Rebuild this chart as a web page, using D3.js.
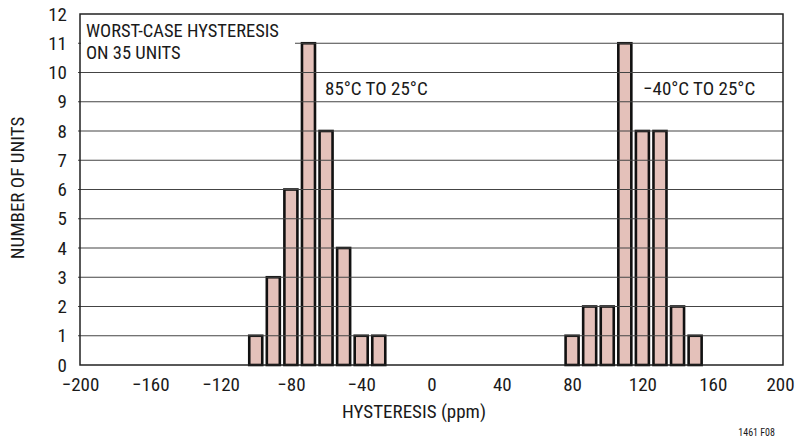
<!DOCTYPE html>
<html><head><meta charset="utf-8">
<script src="https://cdn.jsdelivr.net/npm/d3@7/dist/d3.min.js"></script>
<style>
html,body{margin:0;padding:0;background:#fff;}
text{font-family:"Liberation Sans Narrow","Roboto Condensed","Liberation Sans",sans-serif;fill:#1a1a1a;}
</style></head>
<body>
<svg id="chart" width="796" height="440"></svg>
<script>
// Data
const hotCenters = [-100, -90, -80, -70, -60, -50, -40, -30];
const hotCounts  = [1, 3, 6, 11, 8, 4, 1, 1];
const coldCenters = [80, 90, 100, 110, 120, 130, 140, 150];
const coldCounts  = [1, 2, 2, 11, 8, 8, 2, 1];
const xTicks = [-200, -160, -120, -80, -40, 0, 40, 80, 120, 160, 200];
const yTicks = [0,1,2,3,4,5,6,7,8,9,10,11,12];

const svg = d3.select("#chart");
const L = 80, R = 783, T = 14, B = 365;
const FS = "19px";
const x = d3.scaleLinear().domain([-200, 200]).range([L, R]);
const y = d3.scaleLinear().domain([0, 12]).range([B, T]);
const binHalf = 3.7;

const bars = hotCenters.map((c,i)=>({c, v:hotCounts[i]}))
  .concat(coldCenters.map((c,i)=>({c, v:coldCounts[i]})));

svg.append("g").selectAll("rect").data(bars).join("rect")
  .attr("x", d => x(d.c - binHalf))
  .attr("width", d => x(d.c + binHalf) - x(d.c - binHalf))
  .attr("y", d => y(d.v))
  .attr("height", d => y(0) - y(d.v))
  .attr("fill", "#e4c1ba")
  .attr("stroke", "#111")
  .attr("stroke-width", 2.6);

// gridlines (over bars)
svg.append("g").selectAll("line").data(yTicks.filter(t => t > 0 && t < 12)).join("line")
  .attr("x1", L - 2).attr("x2", R)
  .attr("y1", d => y(d)).attr("y2", d => y(d))
  .attr("stroke", "#444").attr("stroke-width", 1.1);

// text box with white background
svg.append("rect").attr("x", L + 1).attr("y", T + 1).attr("width", 214).attr("height", 46).attr("fill", "#fff");

// frame
svg.append("rect").attr("x", L).attr("y", T).attr("width", R - L).attr("height", B - T)
  .attr("fill", "none").attr("stroke", "#222").attr("stroke-width", 1.5);

// axes labels via d3 axes
const yAxis = d3.axisLeft(y).tickValues(yTicks).tickSize(0).tickPadding(13).tickFormat(d3.format("d"));
const gy = svg.append("g").attr("transform", `translate(${L},0)`).call(yAxis);
gy.select(".domain").remove();
gy.selectAll("text").style("font-size", FS).style("font-family", null);

const fmt = d => (d < 0 ? "\u2212" + Math.abs(d) : String(d));
const xAxis = d3.axisBottom(x).tickValues(xTicks).tickSize(0).tickPadding(12.5).tickFormat(fmt);
const gx = svg.append("g").attr("transform", `translate(0,${B})`).call(xAxis);
gx.select(".domain").remove();
gx.selectAll("text").style("font-size", FS).style("font-family", null);
// keep the last label inside the canvas
gx.selectAll(".tick").filter(d => d === 200).select("text").attr("x", -3);

svg.append("text").attr("x", 414).attr("y", 418).attr("text-anchor", "middle")
  .style("font-size", FS).text("HYSTERESIS (ppm)");
svg.append("text").attr("transform", "translate(24,188) rotate(-90)").attr("text-anchor", "middle")
  .style("font-size", FS).text("NUMBER OF UNITS");
svg.append("text").attr("x", 775).attr("y", 436).attr("text-anchor", "end")
  .style("font-size", "10px").text("1461 F08");

svg.append("text").attr("x", 86).attr("y", 37).style("font-size", "18.5px").text("WORST-CASE HYSTERESIS");
svg.append("text").attr("x", 86).attr("y", 58.5).style("font-size", "18.5px").text("ON 35 UNITS");
svg.append("text").attr("x", 325).attr("y", 95).style("font-size", FS).text("85°C TO 25°C");
svg.append("text").attr("x", 643).attr("y", 95).style("font-size", FS).text("\u221240°C TO 25°C");
</script>
</body></html>
